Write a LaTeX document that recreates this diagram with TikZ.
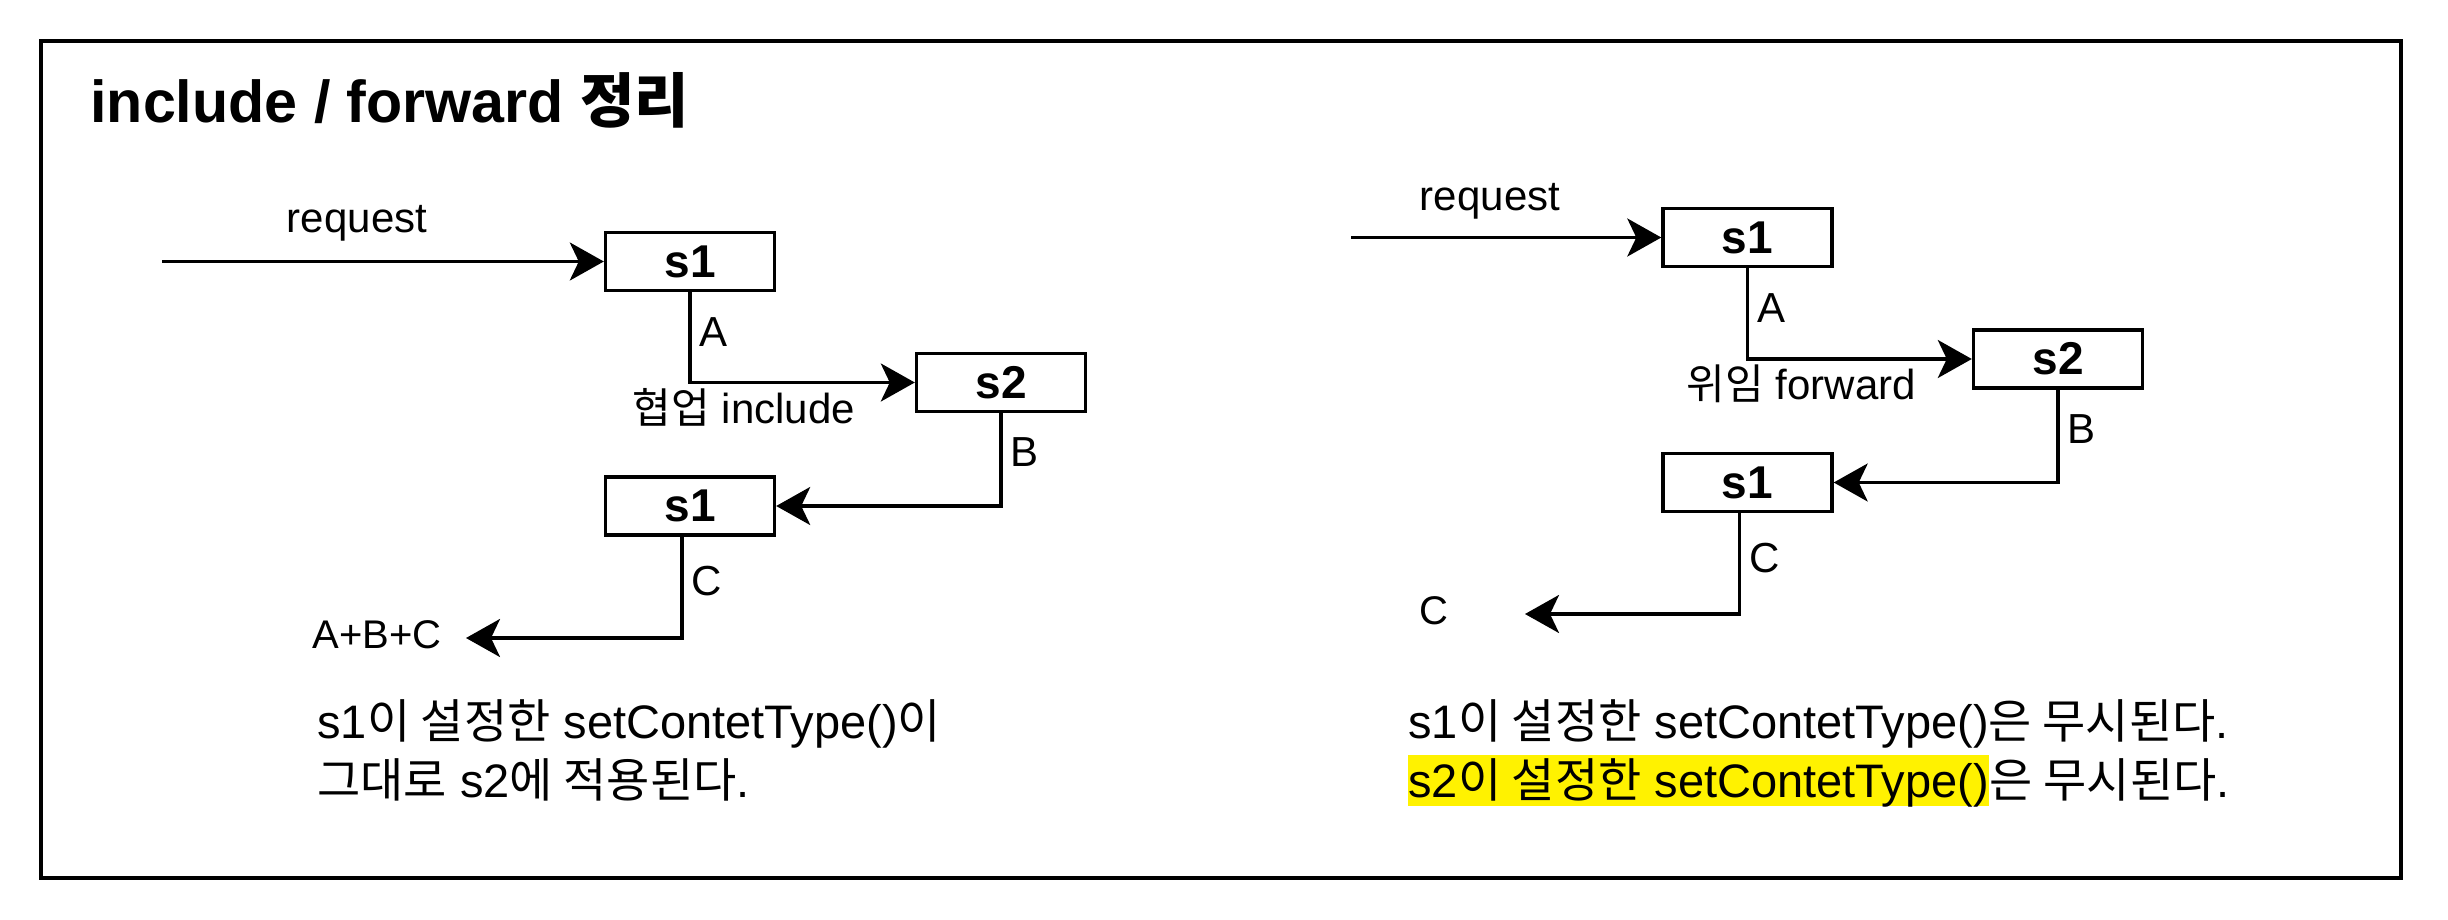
\documentclass[tikz,border=0pt]{standalone}
\usepackage{fontspec}
\setmainfont{Liberation Sans}
\newfontfamily\kr{Noto Sans CJK KR}
\usetikzlibrary{arrows.meta} % for the notched arrow heads

\begin{document}
\begin{tikzpicture}[x=0.5pt, y=-0.5pt,
                    servlet/.style={draw, line width=1.7pt, minimum width=84.5pt, minimum height=29pt, inner sep=0pt, font=\bfseries\fontsize{23}{28}\selectfont},
                    flow/.style={line width=1.7pt, -{Stealth[length=17pt, width=19pt, inset=4.5pt]}},
                    lbl/.style={inner sep=4pt, font=\fontsize{21}{25}\selectfont},
                    word/.style={anchor=base, inner sep=0pt, font=\fontsize{21}{25}\selectfont},
                    note/.style={anchor=base west, inner sep=0pt, font=\fontsize{23.5}{28}\selectfont},
                    heading/.style={anchor=base west, inner sep=0pt, font=\bfseries\fontsize{29.6}{35}\selectfont}
                    ]

    % FRAME %
    \fill[white] (0,0) rectangle (2448,920);
    \draw[line width=2pt] (41,41) rectangle (2401,878);
    \node[heading] (head) at (90,123) {include / forward {\kr 정리}};

    % INCLUDE %
    \node[servlet] (s1L)  at (690,261.5) {s1};
    \node[servlet] (s2L)  at (1001,382.5) {s2};
    \node[servlet] (s1bL) at (690,506) {s1};
    \coordinate (inL)  at (162,261.5);
    \coordinate (outL) at (466,638);
    \node[word] (reqL) at (357,233) {request};
    \node[word, font=\fontsize{20}{24}\selectfont] (resL) at (377,648) {A+B+C};

    \draw[flow] (inL) -- (s1L.west);
    \draw[flow] (s1L.south) |- node[lbl, pos=0.22, right] (aL) {A}
                               node[lbl, pos=0.62, below, inner sep=2pt] (midL) {{\kr 협업} include} (s2L.west);
    \draw[flow] (s2L.south) |- node[lbl, pos=0.21, right] (bL) {B} (s1bL.east);
    \draw[flow] ([xshift=-4pt]s1bL.south) |- node[lbl, pos=0.22, right] (cL) {C} (outL);

    \node[note] (n1L) at (317,738) {s1{\kr 이 설정한} setContetType(){\kr 이}};
    \node[note] (n2L) at (317,797) {{\kr 그대로} s2{\kr 에 적용된다}.};

    % FORWARD %
    \node[servlet] (s1R)  at (1747.5,237.5) {s1};
    \node[servlet] (s2R)  at (2058,359) {s2};
    \node[servlet] (s1bR) at (1747.5,482.5) {s1};
    \coordinate (inR)  at (1351,237.5);
    \coordinate (outR) at (1525,614);
    \node[word] (reqR) at (1490,210) {request};
    \node[word, font=\fontsize{20}{24}\selectfont] (resR) at (1434,624) {C};

    \draw[flow] (inR) -- (s1R.west);
    \draw[flow] (s1R.south) |- node[lbl, pos=0.22, right] (aR) {A}
                               node[lbl, pos=0.62, below, inner sep=2pt] (midR) {{\kr 위임} forward} (s2R.west);
    \draw[flow] (s2R.south) |- node[lbl, pos=0.21, right] (bR) {B} (s1bR.east);
    \draw[flow] ([xshift=-4pt]s1bR.south) |- node[lbl, pos=0.22, right] (cR) {C} (outR);

    \node[note] (n1R) at (1408,738) {s1{\kr 이 설정한} setContetType(){\kr 은 무시된다}.};
    \node[note, fill=yellow, text height=21pt, text depth=4.5pt] (hl) at (1408,797) {s2{\kr 이 설정한} setContetType()};
    \node[note] (n2R) at (hl.base east) {{\kr 은 무시된다}.};
\end{tikzpicture}
\end{document}
